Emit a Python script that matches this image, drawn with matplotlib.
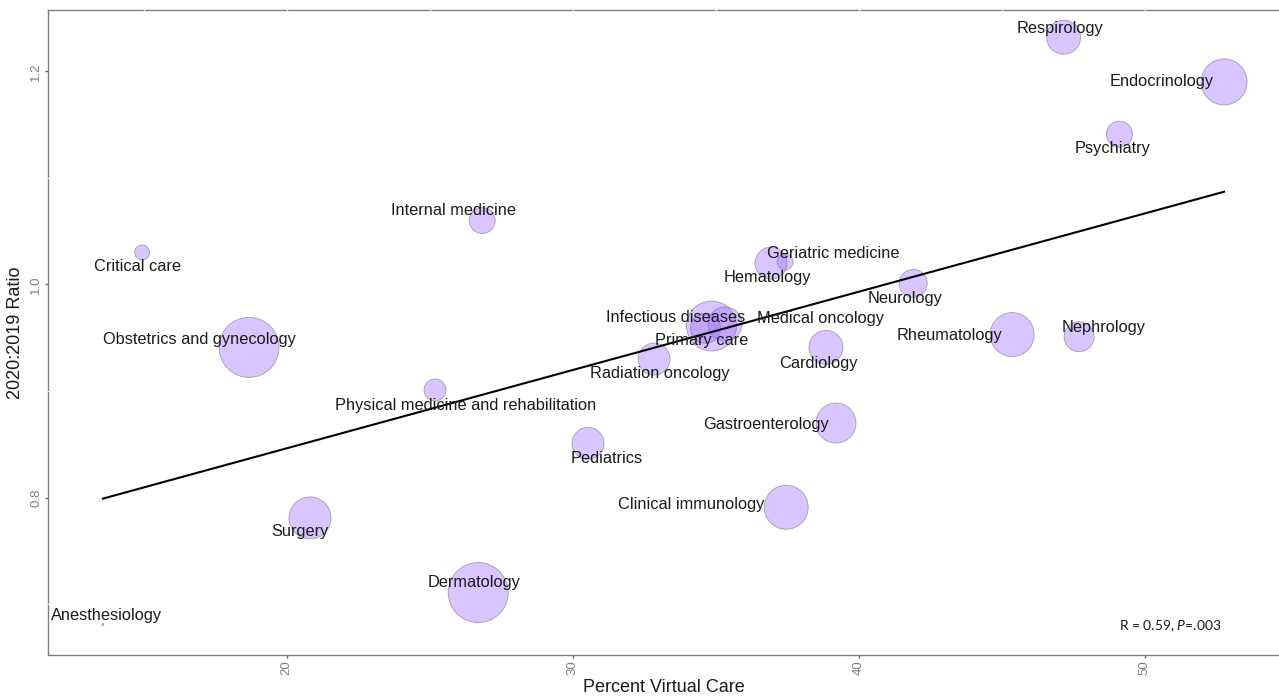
import numpy as np
import matplotlib
matplotlib.use("Agg")
import matplotlib.pyplot as plt
import matplotlib.transforms as mtransforms

# ---------------- data ----------------
specialties = [
    "Respirology", "Endocrinology", "Psychiatry", "Internal medicine", "Critical care",
    "Geriatric medicine", "Hematology", "Neurology", "Infectious diseases", "Primary care",
    "Medical oncology", "Radiation oncology", "Cardiology", "Rheumatology", "Nephrology",
    "Obstetrics and gynecology", "Physical medicine and rehabilitation", "Gastroenterology",
    "Pediatrics", "Clinical immunology", "Surgery", "Dermatology", "Anesthesiology",
]
pct_virtual = [47.17, 52.78, 49.12, 26.84, 14.95, 37.43, 36.94, 41.91, 34.86, 34.65,
               35.33, 32.85, 38.86, 45.37, 47.71, 18.69, 25.19, 39.21, 30.54, 37.47,
               20.82, 26.70, 13.58]
ratio = [1.232, 1.190, 1.141, 1.060, 1.030, 1.021, 1.020, 1.001, 0.961, 0.959,
         0.963, 0.930, 0.941, 0.953, 0.951, 0.941, 0.901, 0.870, 0.851, 0.791,
         0.781, 0.711, 0.681]
volume = [289, 529, 169, 169, 56, 64, 256, 196, 625, 225,
          289, 256, 289, 484, 225, 900, 121, 400, 256, 484,
          441, 900, 1]

x_ticks = [20, 30, 40, 50]
y_ticks = [0.8, 1.0, 1.2]
x_label = "Percent Virtual Care"
y_label = "2020:2019 Ratio"

# label offsets (pixels, screen: +x right, +y down)
label_offsets = {
    "Respirology": (-4, -9), "Endocrinology": (-62, 0), "Psychiatry": (-7, 14),
    "Internal medicine": (-29, -10), "Critical care": (-5, 14),
    "Geriatric medicine": (48, -9), "Hematology": (-4, 14), "Neurology": (-8, 15),
    "Infectious diseases": (-36, -9), "Primary care": (-4, 12),
    "Medical oncology": (96, -5), "Radiation oncology": (6, 14),
    "Cardiology": (-8, 16), "Rheumatology": (-63, 1), "Nephrology": (25, -9),
    "Obstetrics and gynecology": (-50, -8),
    "Physical medicine and rehabilitation": (31, 15),
    "Gastroenterology": (-70, 1), "Pediatrics": (19, 15),
    "Clinical immunology": (-95, -3), "Surgery": (-10, 14),
    "Dermatology": (-4, -10), "Anesthesiology": (4, -9),
}

# ---------------- figure ----------------
W, H, DPI = 1279, 698, 100
fig = plt.figure(figsize=(W / DPI, H / DPI), dpi=DPI)
ax = fig.add_axes([48 / W, 43 / H, 1 - 48 / W, (655 - 10) / H])
ax.set_xlim(11.66, 54.70)
ax.set_ylim(0.6524, 1.2575)

x = np.array(pct_virtual)
y = np.array(ratio)
v = np.array(volume, dtype=float)
sizes = v * (2 * 0.72) ** 2

ax.scatter(x, y, s=sizes, facecolor=(0.63, 0.44, 1.0, 0.4),
           edgecolor=(0.45, 0.45, 0.45, 0.6), linewidth=0.6, zorder=2)

# linear fit
slope, intercept = np.polyfit(x, y, 1)
xf = np.array([x.min(), x.max()])
ax.plot(xf, slope * xf + intercept, color="black", lw=1.5, zorder=3)

label_font = {"family": "Liberation Sans", "size": 11.8, "color": "#1a1a1a"}
for name, xi, yi in zip(specialties, x, y):
    dx, dy = label_offsets[name]
    ax.annotate(name, (xi, yi), xytext=(dx, -dy), textcoords="offset pixels",
                ha="center", va="center", zorder=4, **label_font)

# stats annotation
plt.rcParams["mathtext.fontset"] = "custom"
plt.rcParams["mathtext.rm"] = "Lato"
plt.rcParams["mathtext.it"] = "Lato:italic"
ax.text(50.89, 0.6797, r"R = 0.59, $\it{P}$=.003", family="Lato", size=10,
        ha="center", va="center", color="#1a1a1a")

# axes styling
ax.set_xticks(x_ticks)
ax.set_yticks(y_ticks)
ax.set_xticklabels([str(t) for t in x_ticks], rotation=90)
ax.set_yticklabels([f"{t:.1f}" for t in y_ticks], rotation=90, va="center")
ax.tick_params(axis="both", length=2.5, width=1, color="#666666",
               labelcolor="#7f7f7f", labelsize=9.5, pad=1.5)
for lab in ax.get_xticklabels() + ax.get_yticklabels():
    lab.set_family("Liberation Sans")

ax.set_xlabel(x_label, family="Liberation Sans", size=13, color="#1a1a1a", labelpad=3)
ax.set_ylabel(y_label, family="Liberation Sans", size=13, color="#1a1a1a", labelpad=5)

for side in ["left", "bottom", "top"]:
    ax.spines[side].set_color("#808080")
    ax.spines[side].set_linewidth(1.0)
ax.spines["right"].set_visible(False)

# white grid breaks on the panel border
top_tr = mtransforms.blended_transform_factory(ax.transData, ax.transAxes)
for gx in [15, 20, 25, 30, 35, 40, 45, 50]:
    ax.plot([gx, gx], [0.995, 1.005], color="white", lw=0.8, transform=top_tr,
            clip_on=False, zorder=5)
left_tr = mtransforms.blended_transform_factory(ax.transAxes, ax.transData)
for gy in [0.7, 0.9, 1.1]:
    ax.plot([-0.002, 0.002], [gy, gy], color="white", lw=0.8, transform=left_tr,
            clip_on=False, zorder=5)

fig.savefig("out.png", dpi=DPI)
